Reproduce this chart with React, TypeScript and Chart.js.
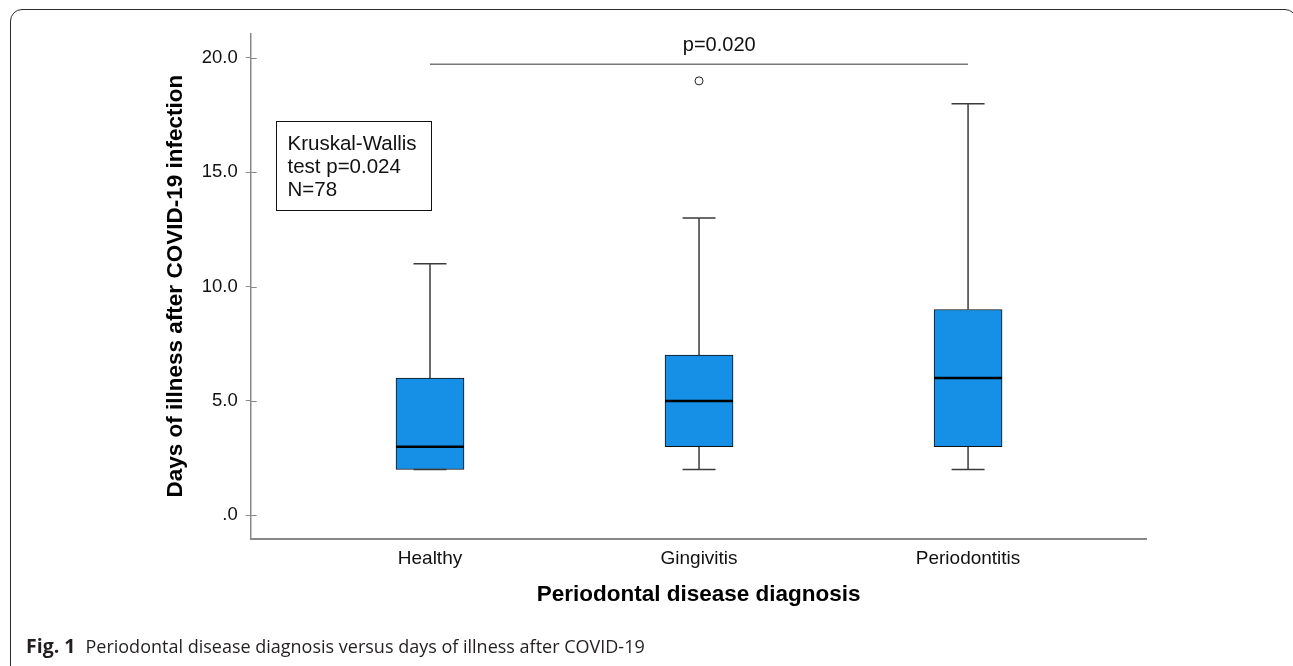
import React, { useEffect, useRef } from "react";
import { Chart, registerables } from "chart.js";

Chart.register(...registerables);

// ---- data ----
const categories = ["Healthy", "Gingivitis", "Periodontitis"];
const categoryPositions = [1, 2, 3];
const whiskerMin = [2, 2, 2];
const q1 = [2, 3, 3];
const median = [3, 5, 6];
const q3 = [6, 7, 9];
const whiskerMax = [11, 13, 18];
const outlierCategory = [2];
const outlierValue = [19];
const yTickValues = [0, 5, 10, 15, 20];
const pairBracket = [1, 3];
const pairLevel = 19.73;
const pairLabel = "p=0.020";
const pairLabelX = 2.075;
const pairLabelY = 20.55;
const testLines = ["Kruskal-Wallis", "test p=0.024", "N=78"];

const FONT = "'Liberation Sans', Arial, sans-serif";
const BOX_FILL = "#1590e6";

const boxData = categoryPositions.map((x, i) => ({ x, y: [q1[i], q3[i]] }));
const medianData = categoryPositions.map((x, i) => ({ x, y: median[i] }));
const capData = categoryPositions.flatMap((x, i) => [
  { x, y: whiskerMin[i] },
  { x, y: whiskerMax[i] },
]);
const whiskerData = categoryPositions.flatMap((x, i) => [
  { x, y: q3[i] },
  { x, y: whiskerMax[i] },
  { x, y: null },
  { x, y: q1[i] },
  { x, y: whiskerMin[i] },
  { x, y: null },
]);
const outlierData = outlierCategory.map((x, i) => ({ x, y: outlierValue[i] }));
const bracketData = pairBracket.map((x) => ({ x, y: pairLevel }));

const annotationPlugin = {
  id: "boxAnnotations",
  afterDatasetsDraw(chart: any) {
    const { ctx, chartArea, scales } = chart;
    const xs = scales.x;
    const ys = scales.y;
    ctx.save();
    // inner half of y tick marks (cross the axis)
    ctx.strokeStyle = "#8a8a8a";
    ctx.lineWidth = 1;
    yTickValues.forEach((v) => {
      const py = Math.round(ys.getPixelForValue(v)) + 0.5;
      ctx.beginPath();
      ctx.moveTo(chartArea.left, py);
      ctx.lineTo(chartArea.left + 6, py);
      ctx.stroke();
    });
    // pair p-value label
    ctx.fillStyle = "#111";
    ctx.font = `20px ${FONT}`;
    ctx.textAlign = "center";
    ctx.textBaseline = "alphabetic";
    ctx.fillText(pairLabel, xs.getPixelForValue(pairLabelX), ys.getPixelForValue(pairLabelY) + 6);
    // Kruskal-Wallis box
    const bx = Math.round(chartArea.left + 25) + 0.5;
    const by = Math.round(chartArea.top + 88) + 0.5;
    const bw = 155;
    const bh = 89;
    ctx.strokeStyle = "#111";
    ctx.lineWidth = 1;
    ctx.strokeRect(bx, by, bw, bh);
    ctx.font = `20.5px ${FONT}`;
    ctx.textAlign = "left";
    testLines.forEach((t, i) => {
      ctx.fillText(t, bx + 11, by + 28.5 + i * 23);
    });
    ctx.restore();
  },
};

export default function App() {
  const canvasRef = useRef<HTMLCanvasElement | null>(null);

  useEffect(() => {
    if (!canvasRef.current) return;
    const chart = new Chart(canvasRef.current, {
      type: "bar",
      data: {
        datasets: [
          {
            type: "line",
            label: "bracket",
            data: bracketData as any,
            borderColor: "#333",
            borderWidth: 1,
            pointRadius: 0,
            order: 5,
          },
          {
            type: "line",
            label: "whiskers",
            data: whiskerData as any,
            borderColor: "#3a3a3a",
            borderWidth: 1.5,
            pointRadius: 0,
            spanGaps: false,
            order: 4,
          },
          {
            type: "bar",
            label: "box",
            data: boxData as any,
            backgroundColor: BOX_FILL,
            borderColor: "#111",
            borderWidth: 1,
            borderSkipped: false,
            barThickness: 68,
            grouped: false,
            order: 3,
          },
          {
            type: "scatter",
            label: "caps",
            data: capData as any,
            pointStyle: "line",
            pointRadius: 16.5,
            borderColor: "#3a3a3a",
            borderWidth: 1.5,
            order: 2,
          },
          {
            type: "scatter",
            label: "median",
            data: medianData as any,
            pointStyle: "line",
            pointRadius: 34,
            borderColor: "#000",
            borderWidth: 2.5,
            order: 1,
          },
          {
            type: "scatter",
            label: "outliers",
            data: outlierData as any,
            pointStyle: "circle",
            pointRadius: 4,
            backgroundColor: "#fff",
            borderColor: "#222",
            borderWidth: 1,
            order: 0,
          },
        ],
      },
      options: {
        responsive: true,
        maintainAspectRatio: false,
        animation: false,
        layout: { autoPadding: false, padding: { left: 150, right: 146.3, top: 33.3, bottom: 57.5 } },
        plugins: {
          legend: { display: false },
          tooltip: { enabled: false },
        },
        scales: {
          x: {
            type: "linear",
            offset: false,
            min: 0.3335,
            max: 3.664,
            afterBuildTicks: (s: any) => {
              s.ticks = categoryPositions.map((v) => ({ value: v }));
            },
            afterFit: (s: any) => {
              s.height = 69.5;
            },
            grid: { display: false },
            border: { display: true, color: "#888", width: 2 },
            ticks: {
              color: "#111",
              font: { family: FONT, size: 19 },
              padding: 0,
              maxRotation: 0,
              autoSkip: false,
              callback: (v: any) => {
                const i = categoryPositions.indexOf(Number(v));
                return i >= 0 ? categories[i] : "";
              },
            },
            title: {
              display: true,
              text: "Periodontal disease diagnosis",
              color: "#000",
              font: { family: FONT, size: 22.5, weight: "bold" },
              padding: { top: 0, bottom: 0 },
            },
          },
          y: {
            type: "linear",
            min: -1.04,
            max: 21.08,
            afterBuildTicks: (s: any) => {
              s.ticks = yTickValues.map((v) => ({ value: v }));
            },
            afterFit: (s: any) => {
              s.width = 100.7;
            },
            grid: {
              drawOnChartArea: false,
              drawTicks: true,
              tickLength: 5,
              color: "#8a8a8a",
            },
            border: { display: true, color: "#888", width: 1.5 },
            ticks: {
              color: "#111",
              font: { family: FONT, size: 18.5 },
              padding: 8,
              autoSkip: false,
              callback: (v: any) => (Number(v) === 0 ? ".0" : Number(v).toFixed(1)),
            },
            title: {
              display: true,
              text: "Days of illness after COVID-19 infection",
              color: "#000",
              font: { family: FONT, size: 22.5, weight: "bold" },
              padding: { top: 12.5, bottom: 0 },
            },
          },
        },
      },
      plugins: [annotationPlugin],
    });
    return () => chart.destroy();
  }, []);

  return (
    <>
      <div
        style={{
          position: "fixed",
          left: 10,
          top: 9,
          width: 1287,
          height: 720,
          boxSizing: "border-box",
          border: "1.5px solid #2b2b2b",
          borderRadius: 12,
        }}
      />
      <div
        style={{
          position: "fixed",
          left: 26,
          top: 636,
          fontFamily: "'Open Sans', sans-serif",
          fontSize: 18,
          lineHeight: "20px",
          color: "#231f20",
          whiteSpace: "nowrap",
        }}
      >
        <b style={{ fontSize: 19.5 }}>Fig. 1</b>
        <span style={{ marginLeft: 10 }}>
          Periodontal disease diagnosis versus days of illness after COVID-19
        </span>
      </div>
      <div style={{ position: "fixed", left: 0, top: 0, width: 1293, height: 666 }}>
        <canvas ref={canvasRef} />
      </div>
    </>
  );
}
